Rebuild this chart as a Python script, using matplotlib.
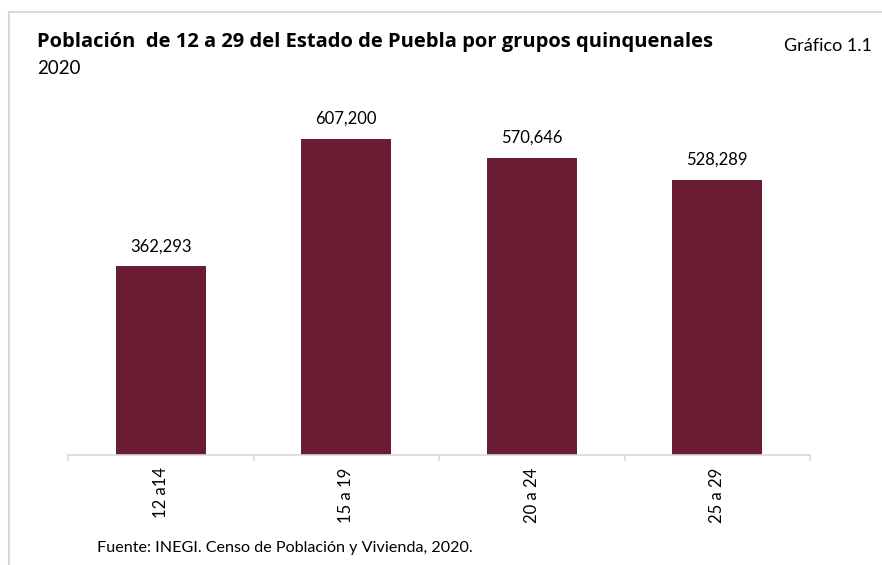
import matplotlib
matplotlib.use("Agg")
import matplotlib.pyplot as plt
from matplotlib.lines import Line2D

categories = ["12 a14", "15 a 19", "20 a 24", "25 a 29"]
values = [362293, 607200, 570646, 528289]

W, H = 882, 565
fig = plt.figure(figsize=(W / 100, H / 100), dpi=100)
plt.rcParams['font.family'] = ['Lato', 'DejaVu Sans']

def fx(px):
    return px / W

def fy(py):
    return 1 - py / H

# frame
fig.add_artist(Line2D([fx(9), fx(9)], [fy(12), 0], color="#d9d9d9", lw=1.5))
fig.add_artist(Line2D([fx(9), 1], [fy(12), fy(12)], color="#d9d9d9", lw=1.5))

ax = fig.add_axes([fx(68), fy(455), fx(810) - fx(68), (455 - 100) / H])
x = range(len(categories))
bars = ax.bar(x, values, width=0.485, color="#6A1C32")
ax.set_xlim(-0.5, len(categories) - 0.5)
ax.set_ylim(0, 355 * 1921)
for s in ["top", "right", "left"]:
    ax.spines[s].set_visible(False)
ax.spines["bottom"].set_color("#d9d9d9")
ax.spines["bottom"].set_linewidth(1.2)
ax.set_yticks([])
ax.set_xticks(x)
ax.set_xticklabels(categories, rotation=90, fontsize=12, color="#000000")
ax.tick_params(axis="x", length=0, pad=9)
for b in [-0.5, 0.5, 1.5, 2.5, 3.5]:
    ax.plot([b, b], [0, -5 * 1921], color="#d9d9d9", lw=1.2, clip_on=False)
for i, v in enumerate(values):
    ax.text(i, v + 12 * 1921, f"{v:,}", ha="center", va="bottom", fontsize=12)

fig.text(fx(37), fy(42), "Población  de 12 a 29 del Estado de Puebla por grupos quinquenales",
         fontsize=14.5, fontweight="bold", ha="left", va="center",
         family=["Open Sans", "DejaVu Sans"])
fig.text(fx(37), fy(68), "2020", fontsize=13.5, ha="left", va="center")
fig.text(fx(872), fy(46), "Gráfico 1.1", fontsize=13, ha="right", va="center")
fig.text(fx(97), fy(548), "Fuente: INEGI. Censo de Población y Vivienda, 2020.",
         fontsize=11.6, ha="left", va="center")

fig.savefig("out.png", dpi=100)
